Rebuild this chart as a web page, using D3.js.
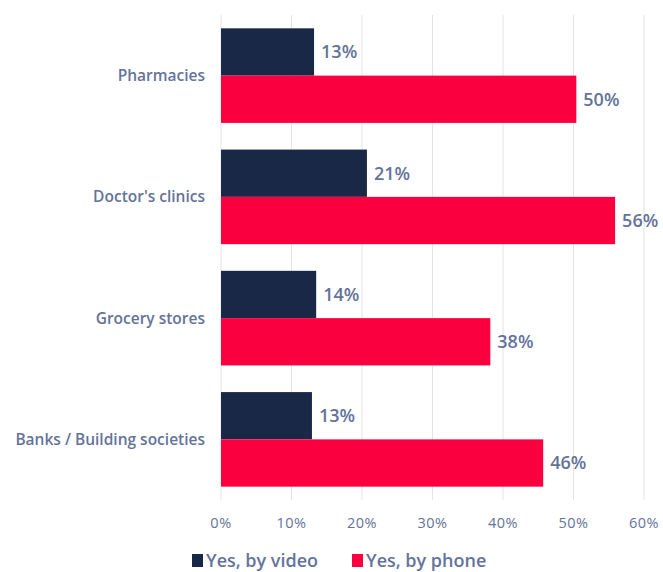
<!DOCTYPE html>
<html>
<head>
<meta charset="utf-8">
<script src="https://cdn.jsdelivr.net/npm/d3@7"></script>
<style>
  body { margin: 0; background: #fff; }
  svg { font-family: "Open Sans", Lato, sans-serif; }
</style>
</head>
<body>
<div id="chart"></div>
<script>
var categories = ["Pharmacies", "Doctor's clinics", "Grocery stores", "Banks / Building societies"];
var seriesNames = ["Yes, by video", "Yes, by phone"];
var videoValues = [13.2, 20.7, 13.5, 12.9];
var phoneValues = [50.4, 55.9, 38.2, 45.7];
var xTicks = [0, 10, 20, 30, 40, 50, 60];

var width = 663, height = 572;
var margin = {top: 15, right: 19, bottom: 72, left: 221};
var colors = ["#192846", "#fa003f"];
var textColor = "#64739a";

var svg = d3.select("#chart")
  .append("svg")
    .attr("width", width)
    .attr("height", height);

var x = d3.scaleLinear()
  .domain([0, 60])
  .range([margin.left, width - margin.right]);

var y = d3.scaleBand()
  .domain(categories)
  .range([margin.top, height - margin.bottom])
  .paddingInner(0.22)
  .paddingOuter(0.11);

var ySub = d3.scaleBand()
  .domain(seriesNames)
  .range([0, y.bandwidth()]);

// gridlines
svg.append("g")
  .selectAll("line")
  .data(xTicks)
  .enter()
  .append("line")
    .attr("x1", d => x(d))
    .attr("x2", d => x(d))
    .attr("y1", margin.top)
    .attr("y2", height - margin.bottom)
    .attr("stroke", "#e4e4e4")
    .attr("stroke-width", 1);

// x tick labels
svg.append("g")
  .selectAll("text")
  .data(xTicks)
  .enter()
  .append("text")
    .attr("x", d => x(d))
    .attr("y", 528)
    .attr("text-anchor", "middle")
    .attr("fill", textColor)
    .style("font-size", "14.5px")
    .style("letter-spacing", "0.5px")
    .text(d => d + "%");

// category labels
svg.append("g")
  .selectAll("text")
  .data(categories)
  .enter()
  .append("text")
    .attr("x", margin.left - 16)
    .attr("y", d => y(d) + y.bandwidth() / 2)
    .attr("dy", "0.35em")
    .attr("text-anchor", "end")
    .attr("fill", textColor)
    .style("font-size", "15.5px")
    .style("font-weight", "600")
    .text(d => d);

var rows = categories.map(function(c, i){
  return [
    {cat: c, key: seriesNames[0], value: videoValues[i]},
    {cat: c, key: seriesNames[1], value: phoneValues[i]}
  ];
});

var groups = svg.append("g")
  .selectAll("g")
  .data(rows)
  .enter()
  .append("g")
    .attr("transform", d => "translate(0," + y(d[0].cat) + ")");

groups.selectAll("rect")
  .data(d => d)
  .enter()
  .append("rect")
    .attr("x", x(0))
    .attr("y", d => ySub(d.key))
    .attr("width", d => x(d.value) - x(0))
    .attr("height", ySub.bandwidth())
    .attr("fill", (d, i) => colors[i]);

groups.selectAll("text")
  .data(d => d)
  .enter()
  .append("text")
    .attr("x", d => x(d.value) + 7)
    .attr("y", d => ySub(d.key) + ySub.bandwidth() / 2)
    .attr("dy", "0.35em")
    .attr("fill", textColor)
    .style("font-size", "18px")
    .style("font-weight", "600")
    .text(d => d3.format(".0f")(d.value) + "%");

// legend
var legend = svg.append("g")
  .attr("transform", "translate(0,567)");

var legendX = [192, 352];
seriesNames.forEach(function(name, i){
  var g = legend.append("g").attr("transform", "translate(" + legendX[i] + ",0)");
  g.append("rect")
    .attr("x", 0)
    .attr("y", -13)
    .attr("width", 11)
    .attr("height", 13)
    .attr("fill", colors[i]);
  g.append("text")
    .attr("x", 14)
    .attr("y", 0)
    .attr("fill", textColor)
    .style("font-size", "18px")
    .style("font-weight", "600")
    .text(name);
});
</script>
</body>
</html>
